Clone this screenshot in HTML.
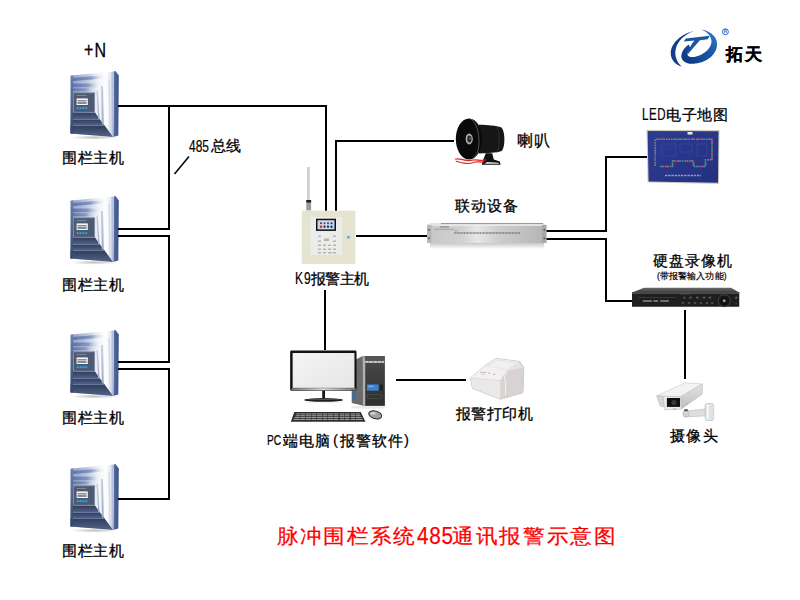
<!DOCTYPE html>
<html><head><meta charset="utf-8">
<style>
html,body{margin:0;padding:0;background:#fff;}
body{width:800px;height:600px;position:relative;overflow:hidden;font-family:"Liberation Sans",sans-serif;color:#000;}
.t{position:absolute;white-space:nowrap;line-height:1;font-size:15px;font-weight:500;-webkit-text-stroke:0.3px #000;}
.a{font-weight:400;transform-origin:0 0;-webkit-text-stroke:0.2px #000;}
.r{font-size:20px;color:#f00;-webkit-text-stroke:0.25px #f00;font-weight:400;letter-spacing:1.5px;transform:scaleX(1.08);transform-origin:0 0;}
svg{position:absolute;left:0;top:0;}
</style></head><body>
<svg width="800" height="600" viewBox="0 0 800 600">
<defs>
 <linearGradient id="fTop" x1="0" y1="0" x2="1" y2="0">
  <stop offset="0" stop-color="#5f74a3"/><stop offset="0.45" stop-color="#9aa8c6"/><stop offset="0.8" stop-color="#eef1f7"/><stop offset="1" stop-color="#ffffff"/>
 </linearGradient>
 <linearGradient id="fRight" x1="0" y1="0" x2="1" y2="0">
  <stop offset="0" stop-color="#c9d1e2"/><stop offset="0.5" stop-color="#ffffff"/><stop offset="1" stop-color="#b8c2d6"/>
 </linearGradient>
 <linearGradient id="fBot" x1="0" y1="0" x2="0" y2="1">
  <stop offset="0" stop-color="#2b3a5c"/><stop offset="0.6" stop-color="#3f5078"/><stop offset="1" stop-color="#6d7fa5"/>
 </linearGradient>
 <linearGradient id="fSide" x1="0" y1="0" x2="1" y2="0">
  <stop offset="0" stop-color="#5670a8"/><stop offset="1" stop-color="#3a5088"/>
 </linearGradient>
 <linearGradient id="fLeft" x1="0" y1="0" x2="0" y2="1">
  <stop offset="0" stop-color="#6a80b0"/><stop offset="1" stop-color="#33456c"/>
 </linearGradient>
 <radialGradient id="shadow" cx="0.5" cy="0.5" r="0.5">
  <stop offset="0" stop-color="#000" stop-opacity="0.25"/><stop offset="1" stop-color="#000" stop-opacity="0"/>
 </radialGradient>
 <linearGradient id="fStreak" x1="0" y1="0" x2="1" y2="0">
  <stop offset="0" stop-color="#5a70a8"/><stop offset="0.5" stop-color="#8798c2"/><stop offset="0.88" stop-color="#f2f4f9" stop-opacity="0"/>
 </linearGradient>
 <linearGradient id="fBand" x1="0" y1="0" x2="0" y2="1">
  <stop offset="0" stop-color="#303d5a"/><stop offset="1" stop-color="#536388"/>
 </linearGradient>
 <linearGradient id="fRStripe" x1="0" y1="0" x2="0" y2="1">
  <stop offset="0" stop-color="#c8d0e2"/><stop offset="1" stop-color="#9eabc8"/>
 </linearGradient>
 <linearGradient id="fFace" x1="0" y1="0" x2="1" y2="0">
  <stop offset="0" stop-color="#90a0c6"/><stop offset="0.35" stop-color="#b8c3dc"/><stop offset="0.62" stop-color="#eef1f7"/><stop offset="0.82" stop-color="#ffffff"/><stop offset="1" stop-color="#d2d9e8"/>
 </linearGradient>
 <g id="fence">
  <ellipse cx="94" cy="137.5" rx="24" ry="2.2" fill="url(#shadow)"/>
  <polygon points="113.8,71.5 115.5,71 118.8,75.5 118.3,135.5 113.2,137" fill="url(#fSide)"/>
  <polygon points="71.5,75.5 113.8,71.5 113.2,137 70.5,133.5" fill="url(#fFace)"/>
  <polygon points="70.5,125.5 104.6,125.5 113.2,137 70.5,133.5" fill="url(#fBand)"/>
  <polygon points="71,119.5 100,119.5 104.6,125.5 71,125.5" fill="url(#fBand)"/>
  <polygon points="71,112.5 95,112.5 100,119.5 71,119.5" fill="url(#fBand)"/>
  <rect x="71" y="119" width="29" height="1" fill="#6678a2"/>
  <rect x="71" y="125" width="33.6" height="1" fill="#6678a2"/>
  <polygon points="71.5,78 110,74.8 110,78 71.5,81.2" fill="url(#fStreak)"/>
  <rect x="71.5" y="83.5" width="33" height="3.8" fill="url(#fStreak)"/>
  <rect x="71.5" y="88.3" width="28.5" height="3" fill="url(#fStreak)"/>
  <polygon points="96.4,91 97.8,91 99.6,119 98.2,119" fill="url(#fRStripe)"/>
  <polygon points="101,86 103,86 103.8,124.5 101.8,124.5" fill="url(#fRStripe)"/>
  <polygon points="108.5,79 110,79 110.8,132 109.3,132" fill="#d4dbe8"/>
  <polygon points="111.5,72 113.8,71.5 113.2,137 111.5,135" fill="#b5c0d8"/>
  <polygon points="70.5,75.8 73.2,75.6 72.8,133.6 70.5,133.5" fill="url(#fLeft)"/>
  <rect x="73" y="92.3" width="22" height="20.2" fill="#7c88a4"/>
  <rect x="74" y="93.3" width="20" height="18.5" fill="#4e5a70"/>
  <rect x="76.6" y="98.4" width="11.2" height="6.6" fill="#f4f6f8"/>
  <rect x="77.5" y="100.2" width="9" height="1.2" fill="#6a7480"/><rect x="77.5" y="102.2" width="9" height="1.6" fill="#6a7480"/>
  <rect x="76.5" y="95" width="10" height="0.8" fill="#8794a6"/>
  <circle cx="77.8" cy="108.2" r="1.15" fill="#2aa0f0"/><circle cx="80.6" cy="108.2" r="1.15" fill="#2aa0f0"/>
  <circle cx="83.4" cy="108.2" r="1.15" fill="#2aa0f0"/><circle cx="86.2" cy="108.2" r="1.15" fill="#2aa0f0"/>
 </g>
</defs>
<use href="#fence"/>
<use href="#fence" transform="translate(0,125)"/>
<use href="#fence" transform="translate(0,259)"/>
<use href="#fence" transform="translate(0,393)"/>

<g fill="#000">
<rect x="118" y="105" width="209" height="2"/>
<rect x="325" y="105" width="2" height="106"/>
<rect x="168" y="105" width="2" height="125"/>
<rect x="118" y="228" width="52" height="2"/>
<rect x="118" y="235" width="52" height="2"/>
<rect x="168" y="235" width="2" height="128"/>
<rect x="118" y="361" width="52" height="2"/>
<rect x="118" y="368" width="52" height="2"/>
<rect x="168" y="368" width="2" height="132"/>
<rect x="118" y="498" width="52" height="2"/>
<rect x="335" y="140" width="2" height="71"/>
<rect x="335" y="140" width="119" height="2"/>
<rect x="356" y="235" width="72" height="2"/>
<rect x="546" y="230" width="61" height="2"/>
<rect x="605" y="156" width="2" height="76"/>
<rect x="605" y="156" width="43" height="2"/>
<rect x="546" y="238" width="61" height="2"/>
<rect x="605" y="238" width="2" height="64"/>
<rect x="605" y="300" width="28" height="2"/>
<rect x="684" y="310" width="2" height="69"/>
<rect x="324" y="290" width="2" height="60"/>
<rect x="396" y="379" width="70" height="2"/>
</g>
<line x1="189" y1="156.5" x2="174.5" y2="174" stroke="#000" stroke-width="1.5"/>

<!-- K9 host -->
<g>
 <rect x="307" y="167" width="2.6" height="34" fill="#b8b8b8"/>
 <rect x="307.6" y="167" width="1" height="34" fill="#e8e8e8"/>
 <rect x="306.3" y="200" width="4.8" height="10.5" fill="#9a9a9a"/>
 <rect x="306.3" y="200" width="4.8" height="2.5" fill="#202020"/>
 <rect x="301.8" y="210.7" width="53.6" height="53.2" fill="#e4e4d0"/>
 <rect x="310.2" y="216.9" width="32.1" height="37.9" fill="#ececea"/>
 <rect x="316" y="218.7" width="20" height="12.2" fill="#111"/>
 <rect x="317.5" y="220.2" width="17" height="9.2" fill="#c9d6ea"/>
 <circle cx="321" cy="223.3" r="1" fill="#802020"/><circle cx="324.5" cy="223.3" r="1" fill="#405080"/><circle cx="328" cy="223.3" r="1" fill="#304070"/><circle cx="331.5" cy="223.3" r="1" fill="#303030"/>
 <circle cx="321" cy="226.7" r="1.2" fill="#e02020"/><circle cx="324.5" cy="226.7" r="1.1" fill="#202020"/><circle cx="328" cy="226.7" r="1.1" fill="#202020"/><circle cx="331.5" cy="226.7" r="1.2" fill="#1030e0"/>
 <g fill="#b5b5b5">
  <rect x="318" y="235.5" width="3" height="1.5"/><rect x="333" y="235.5" width="3" height="1.5"/>
  <rect x="318" y="240.5" width="3" height="1.5"/><rect x="333" y="240.5" width="3" height="1.5"/>
  <rect x="324" y="238.5" width="5" height="2.5"/>
  <rect x="318" y="244.5" width="3" height="1.5"/><rect x="323" y="244.5" width="3" height="1.5"/><rect x="328" y="244.5" width="3" height="1.5"/><rect x="333" y="244.5" width="3" height="1.5"/>
  <rect x="318" y="248.5" width="3" height="1.5"/><rect x="323" y="248.5" width="3" height="1.5"/><rect x="328" y="248.5" width="3" height="1.5"/><rect x="333" y="248.5" width="3" height="1.5"/>
  <rect x="318" y="252" width="3" height="1.5"/><rect x="323" y="252" width="3" height="1.5"/><rect x="328" y="252" width="4" height="1.5"/><rect x="333" y="252" width="3" height="1.5"/>
 </g>
 <circle cx="348.4" cy="237.3" r="2.2" fill="#c8d4dc"/><circle cx="348.4" cy="237.3" r="1" fill="#5a8ab0"/>
</g>

<!-- horn -->
<g transform="translate(440,110) scale(0.1)">
 <path d="M390,148 C480,150 560,158 610,172 C655,200 655,392 610,412 C560,426 480,432 390,434 Z" fill="#161616"/>
 <path d="M560,165 C600,190 605,390 565,420" stroke="#2a2a2a" stroke-width="12" fill="none"/>
 <ellipse cx="290" cy="290" rx="132" ry="205" fill="#0a0a0a"/>
 <path d="M300,88 C400,120 430,440 320,490" stroke="#5a5a5a" stroke-width="9" fill="none"/>
 <ellipse cx="292" cy="290" rx="36" ry="54" fill="#b0b0b0"/>
 <ellipse cx="294" cy="290" rx="22" ry="34" fill="#2a2a2a"/>
 <ellipse cx="300" cy="285" rx="6" ry="10" fill="#888"/>
 <path d="M458,432 L522,432 L538,495 L598,515 L606,548 L418,548 L428,508 Z" fill="#111"/>
 <path d="M470,520 L585,528 L590,538 L445,538 Z" fill="#e8e8e8"/>
 <path d="M150,492 C200,472 255,522 320,502 C370,487 400,520 462,497 M158,512 C230,532 282,547 342,522 C380,510 420,530 440,515" stroke="#e02626" stroke-width="12" fill="none"/>
</g>

<!-- link device -->
<defs>
 <linearGradient id="lkF" x1="0" y1="0" x2="1" y2="0">
  <stop offset="0" stop-color="#c6c6c6"/><stop offset="0.3" stop-color="#d2d2d2"/><stop offset="0.42" stop-color="#e6e6e6"/><stop offset="0.6" stop-color="#cdcdcd"/><stop offset="1" stop-color="#b4b4b4"/>
 </linearGradient>
 <linearGradient id="lkS" x1="0" y1="0" x2="0" y2="1">
  <stop offset="0" stop-color="#000" stop-opacity="0.22"/><stop offset="1" stop-color="#000" stop-opacity="0"/>
 </linearGradient>
</defs>
<g>
 <rect x="430" y="243" width="114" height="6" fill="url(#lkS)"/>
 <polygon points="427,225 431,223 543,223 546.4,225" fill="#e2e2e2"/>
 <rect x="427" y="225" width="119.4" height="18" fill="url(#lkF)"/>
 <rect x="427" y="225" width="4.5" height="18" fill="#b8b8b8"/>
 <rect x="542" y="225" width="4.4" height="18" fill="#a8a8a8"/>
 <rect x="431.5" y="225" width="110.5" height="0.8" fill="#efefef"/>
 <rect x="440" y="226.3" width="9" height="1.2" fill="#8a8a8a"/>
 <rect x="434" y="228.8" width="20" height="0.8" fill="#999"/>
 <line x1="454" y1="233" x2="520" y2="233" stroke="#707070" stroke-width="1.5" stroke-dasharray="0.9 0.55"/>
 <rect x="441" y="223" width="102" height="1" fill="#9a9a9a"/>
 <rect x="454" y="230.5" width="4" height="0.7" fill="#999"/>
 <rect x="428.3" y="229" width="1.6" height="1.6" fill="#555"/><rect x="428.3" y="237.5" width="1.6" height="1.6" fill="#555"/>
 <rect x="543.5" y="229" width="1.6" height="1.6" fill="#555"/><rect x="543.5" y="237.5" width="1.6" height="1.6" fill="#555"/>
</g>

<!-- LED map -->
<defs>
 <linearGradient id="ledB" x1="0" y1="0" x2="1" y2="1">
  <stop offset="0" stop-color="#2d3c93"/><stop offset="1" stop-color="#24307f"/>
 </linearGradient>
</defs>
<g>
 <polygon points="646.5,129.8 719.5,130 719,184 647.5,182.5" fill="#d2ceBE"/>
 <polygon points="647.6,131 718.5,131.2 718,182.8 648.6,181.5" fill="url(#ledB)"/>
 <g stroke="#3a4ca4" stroke-width="0.6" fill="none">
  <rect x="662" y="144" width="14" height="12"/><rect x="680" y="144" width="12" height="8"/><rect x="697" y="144" width="10" height="12"/>
 </g>
 <g fill="none" stroke-width="1.5" opacity="0.9">
 <polyline points="655.2,166 655.2,139.2 712,139.2 712,159.8 705.5,159.8 705.5,166.5 693.5,166.5 693.5,161 672.5,161 672.5,166.5 659.5,166.5" stroke="#34b888" stroke-dasharray="1.6 0.9"/>
 <polyline points="655.2,166 655.2,139.2 712,139.2 712,159.8 705.5,159.8 705.5,166.5 693.5,166.5 693.5,161 672.5,161 672.5,166.5 659.5,166.5" stroke="#e0407a" stroke-dasharray="2.5 3 1.5 5 3 2"/>
 </g>
 <rect x="687.5" y="132" width="5" height="2.5" fill="#e8e8f0"/>
 <line x1="665" y1="175.5" x2="701" y2="175.5" stroke="#9098c8" stroke-width="1.3" stroke-dasharray="2.4 0.8"/>
</g>

<!-- DVR -->
<defs>
 <linearGradient id="dvT" x1="0" y1="0" x2="0" y2="1">
  <stop offset="0" stop-color="#6a6a6a"/><stop offset="1" stop-color="#3e3e3e"/>
 </linearGradient>
</defs>
<g transform="translate(626,282) scale(0.15)">
 <polygon points="40,70 120,38 700,38 755,70" fill="url(#dvT)"/>
 <rect x="40" y="68" width="715" height="97" fill="#1f1f1f"/>
 <rect x="40" y="68" width="715" height="12" fill="#4a4a4a"/>
 <rect x="80" y="100" width="250" height="4" fill="#4a4a4a"/>
 <g fill="#7a7a7a"><rect x="112" y="121" width="60" height="12"/><rect x="182" y="121" width="32" height="12"/><rect x="228" y="121" width="58" height="12"/></g>
 <g fill="#3a5a7a"><rect x="360" y="74" width="70" height="8"/></g>
 <circle cx="388" cy="105" r="7" fill="#c83030"/>
 <g fill="#5a5a5a"><rect x="422" y="98" width="16" height="12"/><rect x="467" y="98" width="16" height="12"/><rect x="512" y="98" width="16" height="12"/><rect x="552" y="98" width="16" height="12"/>
 <rect x="372" y="135" width="16" height="10"/><rect x="412" y="135" width="16" height="10"/><rect x="452" y="135" width="16" height="10"/><rect x="492" y="135" width="16" height="10"/><rect x="532" y="135" width="16" height="10"/><rect x="567" y="135" width="16" height="10"/></g>
 <circle cx="655" cy="125" r="40" fill="#151515" stroke="#4a4a4a" stroke-width="6"/>
 <circle cx="655" cy="125" r="9" fill="#b0b0b0"/>
 <circle cx="735" cy="105" r="8" fill="#5a5a5a"/>
 <circle cx="735" cy="145" r="5" fill="#4a4a4a"/>
</g>

<!-- camera -->
<defs>
 <linearGradient id="cmR" x1="0" y1="0" x2="0" y2="1">
  <stop offset="0" stop-color="#e4e4e4"/><stop offset="1" stop-color="#bdbdbd"/>
 </linearGradient>
</defs>
<g transform="translate(652,378) scale(0.085)" stroke-linejoin="round">
 <path d="M370,388 L650,365 L655,445 L380,458 Z" fill="#dedede" stroke="#b0b0b0" stroke-width="6"/>
 <circle cx="400" cy="420" r="38" fill="#d4d4d4" stroke="#a8a8a8" stroke-width="6"/>
 <rect x="625" y="300" width="100" height="200" rx="22" fill="#e2e2e2" stroke="#b0b0b0" stroke-width="6"/>
 <rect x="642" y="312" width="26" height="176" fill="#f6f6f6"/>
 <rect x="380" y="368" width="40" height="22" fill="#444"/>
 <polygon points="55,210 390,58 595,70 330,220" fill="#f3f3f3" stroke="#c4c4c4" stroke-width="6"/>
 <polygon points="340,220 595,70 590,190 345,365" fill="url(#cmR)" stroke="#b4b4b4" stroke-width="6"/>
 <polygon points="130,215 340,220 345,365 150,375" fill="#ececec" stroke="#b4b4b4" stroke-width="6"/>
 <polygon points="55,210 130,215 140,340 95,330" fill="#d6d6d6" stroke="#b4b4b4" stroke-width="6"/>
 <rect x="175" y="235" width="155" height="105" fill="#111"/>
 <circle cx="258" cy="288" r="30" fill="#3a3a3a"/>
 <circle cx="420" cy="300" r="8" fill="#d8b040" stroke="none"/>
 <rect x="245" y="360" width="40" height="10" fill="#d8b040" stroke="none"/>
</g>

<!-- PC -->
<defs>
 <linearGradient id="pcChin" x1="0" y1="0" x2="1" y2="0">
  <stop offset="0" stop-color="#7a7a7a"/><stop offset="0.5" stop-color="#d8d8d8"/><stop offset="1" stop-color="#7a7a7a"/>
 </linearGradient>
 <linearGradient id="pcScr" x1="0" y1="0" x2="1" y2="1">
  <stop offset="0" stop-color="#f4f4f4"/><stop offset="1" stop-color="#e6e6e6"/>
 </linearGradient>
 <linearGradient id="pcTw" x1="0" y1="0" x2="0" y2="1">
  <stop offset="0" stop-color="#4a4a4a"/><stop offset="1" stop-color="#2e2e2e"/>
 </linearGradient>
</defs>
<g transform="translate(286,345) scale(0.1383)">
 <ellipse cx="600" cy="450" rx="130" ry="12" fill="#000" opacity="0.08"/>
 <polygon points="475,120 555,80 560,440 475,420" fill="#6a6a6a"/>
 <rect x="555" y="80" width="160" height="360" fill="url(#pcTw)"/>
 <rect x="555" y="82" width="18" height="358" fill="#b0b0b0"/>
 <rect x="570" y="88" width="140" height="22" fill="#555"/>
 <rect x="573" y="115" width="137" height="14" fill="#d0d0d0"/>
 <g fill="#555"><circle cx="600" cy="122" r="4"/><circle cx="630" cy="122" r="4"/><circle cx="660" cy="122" r="4"/><circle cx="690" cy="122" r="4"/></g>
 <rect x="585" y="285" width="85" height="45" fill="#3b82d4"/>
 <rect x="595" y="295" width="40" height="6" fill="#a8d0f8"/>
 <rect x="677" y="285" width="22" height="45" fill="#222"/>
 <rect x="590" y="360" width="100" height="25" fill="none" stroke="#555" stroke-width="4"/>
 <rect x="480" y="340" width="25" height="50" fill="#3a6ea0"/>
 <rect x="30" y="40" width="480" height="290" rx="10" fill="#111"/>
 <rect x="48" y="58" width="447" height="252" fill="url(#pcScr)"/>
 <rect x="40" y="312" width="465" height="16" fill="url(#pcChin)"/>
 <rect x="262" y="330" width="20" height="55" fill="#151515"/>
 <ellipse cx="272" cy="397" rx="142" ry="13" fill="#1e1e1e"/>
 <ellipse cx="272" cy="392" rx="120" ry="4" fill="#6a6a6a"/>
 <rect x="140" y="410" width="265" height="8" fill="#000" opacity="0.07"/>
 <polygon points="60,485 540,485 575,555 35,555" fill="#2e2e2e"/>
 <g fill="#a4a4a4">
  <rect x="75" y="495" width="460" height="7"/><rect x="70" y="508" width="470" height="7"/><rect x="62" y="521" width="485" height="7"/><rect x="55" y="534" width="500" height="8"/>
 </g>
 <g fill="#2e2e2e">
  <rect x="100" y="490" width="4" height="60"/><rect x="140" y="490" width="4" height="60"/><rect x="180" y="490" width="4" height="60"/><rect x="220" y="490" width="4" height="60"/><rect x="260" y="490" width="4" height="60"/><rect x="300" y="490" width="4" height="60"/><rect x="340" y="490" width="4" height="60"/><rect x="380" y="490" width="8" height="60"/><rect x="420" y="490" width="4" height="60"/><rect x="460" y="490" width="8" height="60"/><rect x="500" y="490" width="4" height="60"/>
 </g>
 <ellipse cx="645" cy="505" rx="48" ry="28" fill="#a0a0a0" stroke="#2a2a2a" stroke-width="7" transform="rotate(15 645 505)"/>
 <ellipse cx="630" cy="495" rx="20" ry="10" fill="#d0d0d0"/>
</g>

<!-- printer -->
<g transform="translate(464,352) scale(0.0866)" stroke-linejoin="round">
 <polygon points="75,300 240,160 370,75 640,110 690,180 680,470 420,545 100,420" fill="#e6e3e3" stroke="#b8b2b2" stroke-width="10"/>
 <polygon points="240,160 370,75 640,110 500,215" fill="#eeecec"/>
 <polygon points="275,165 380,95 610,125 495,205" fill="#f2f0f0" stroke="#d4d0d0" stroke-width="4"/>
 <line x1="270" y1="185" x2="495" y2="218" stroke="#c0bcbc" stroke-width="12"/>
 <polygon points="75,300 240,160 500,215 420,330" fill="#f2f0f0"/>
 <polygon points="75,300 420,330 420,545 100,420" fill="#ebe8e8"/>
 <polygon points="420,330 500,215 690,180 680,470 420,545" fill="#d8d2d2"/>
 <path d="M500,215 C470,260 460,300 480,350 L480,500" stroke="#f6f4f4" stroke-width="10" fill="none"/>
 <path d="M75,300 L420,330 L500,215" stroke="#d0cccc" stroke-width="5" fill="none"/>
 <g fill="#b4b0b0"><rect x="185" y="230" width="70" height="10"/><rect x="280" y="238" width="20" height="14"/><rect x="340" y="252" width="20" height="14"/><rect x="200" y="255" width="40" height="6"/></g>
</g>

<!-- logo -->
<defs>
 <linearGradient id="lgB" x1="0" y1="1" x2="1" y2="0">
  <stop offset="0" stop-color="#0a3580"/><stop offset="0.6" stop-color="#1a5aa8"/><stop offset="1" stop-color="#2f80d0"/>
 </linearGradient>
</defs>
<g transform="translate(666,26) scale(0.0825)">
 <path d="M340,62 C200,90 60,200 58,330 C58,410 110,465 190,492 C130,440 100,360 118,280 C140,180 230,100 340,62 Z" fill="#113f8a"/>
 <path d="M420,42 C560,60 640,150 615,260 C590,370 470,450 330,458 C220,462 170,400 190,335 C205,285 240,250 275,225 L300,275 C270,300 255,330 262,350 C275,385 350,380 420,350 C520,300 570,220 545,150 C525,90 470,55 420,42 Z" fill="url(#lgB)"/>
 <path d="M215,188 L240,150 L530,118 L505,160 L410,172 C360,230 300,300 262,345 C265,300 300,230 345,175 Z" fill="#1856a4"/>
 <circle cx="720" cy="70" r="36" fill="none" stroke="#2a6ab8" stroke-width="12"/>
 <text x="720" y="90" font-size="55" font-weight="bold" text-anchor="middle" fill="#2a6ab8" font-family="Liberation Sans">R</text>
</g>
</svg>

<div class="t a" style="left:83.5px;top:40px;font-size:20.5px;letter-spacing:1.5px;transform:scaleX(0.78);-webkit-text-stroke:0.3px #000">+N</div>
<div class="t" style="left:62px;top:149.5px;letter-spacing:0.6px">围栏主机</div>
<div class="t" style="left:62px;top:276.5px;letter-spacing:0.6px">围栏主机</div>
<div class="t" style="left:62px;top:409.5px;letter-spacing:0.6px">围栏主机</div>
<div class="t" style="left:62px;top:542.5px;letter-spacing:0.6px">围栏主机</div>
<div class="t a" style="left:189.2px;top:139.2px;font-size:16.9px;transform:scaleX(0.706)">485</div>
<div class="t" style="left:211px;top:138px;letter-spacing:-0.5px">总线</div>
<div class="t a" style="left:295.2px;top:270.6px;font-size:15.8px;letter-spacing:1.2px;transform:scaleX(0.76)">K9</div>
<div class="t" style="left:311px;top:271px;letter-spacing:-0.6px">报警主机</div>
<div class="t" style="left:517px;top:133px;font-size:16px;letter-spacing:0.6px">喇叭</div>
<div class="t" style="left:455.3px;top:198px;letter-spacing:0.8px">联动设备</div>
<div class="t a" style="left:641.5px;top:106.7px;font-size:16px;letter-spacing:0.8px;transform:scaleX(0.72)">LED</div>
<div class="t" style="left:666px;top:107px;letter-spacing:0.5px">电子地图</div>
<div class="t" style="left:653px;top:253px;letter-spacing:1px">硬盘录像机</div>
<div class="t" style="left:657px;top:272px;font-size:8.5px;letter-spacing:0.1px;-webkit-text-stroke:0.2px #000">(带报警输入功能)</div>
<div class="t" style="left:670px;top:428px;letter-spacing:1.3px">摄像头</div>
<div class="t a" style="left:266.9px;top:432.9px;font-size:14px;transform:scaleX(0.73)">PC</div>
<div class="t" style="left:283px;top:433px;letter-spacing:0.75px">端电脑</div>
<div class="t a" style="left:333px;top:432px">(</div>
<div class="t" style="left:339.5px;top:433px;letter-spacing:1.3px">报警软件</div>
<div class="t a" style="left:404px;top:432px">)</div>
<div class="t" style="left:456px;top:406px;letter-spacing:0.45px">报警打印机</div>
<div class="t" style="left:726px;top:45.5px;font-size:16.5px;font-weight:bold;letter-spacing:1.5px">拓天</div>
<div class="t r" style="left:277px;top:526px">脉冲围栏系统</div>
<div class="t r a" style="left:417px;top:525px;font-size:23px;letter-spacing:0.8px;transform:scaleX(0.9)">485</div>
<div class="t r" style="left:452px;top:526px;letter-spacing:1.9px">通讯报警示意图</div>
</body></html>
